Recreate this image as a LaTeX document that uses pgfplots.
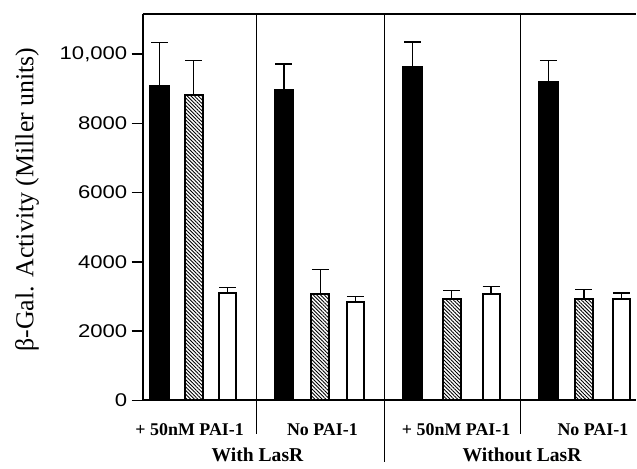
\documentclass[border=0pt]{standalone}
\usepackage{fontspec}
\setmainfont{Liberation Serif}
\newfontfamily\tickfont[FakeStretch=1.2]{Liberation Sans}
\usepackage{pgfplots}
\pgfplotsset{compat=1.18}
\usetikzlibrary{patterns.meta}
\begin{document}
\begin{tikzpicture}
\begin{axis}[
  scale only axis, width=494bp, height=387bp,
  xmin=143, xmax=637, ymin=0, ymax=11162,
  clip=false,
  scaled y ticks=false,
  axis x line*=bottom, axis y line*=left,
  axis line style={line width=2.4pt, black},
  ytick={0,2000,4000,6000,8000,10000},
  yticklabels={0,2000,4000,6000,8000,{10,000}},
  y tick label style={font=\tickfont\fontsize{18.5}{20}\selectfont, xshift=-1bp},
  ytick style={line width=1.4pt, black},
  tick align=outside, major tick length=11bp,
  xtick=\empty,
  /pgf/number format/assume math mode=true,
  error bars/y dir=plus, error bars/y explicit,
  error bars/error bar style={line width=1.3pt, black},
  error bars/error mark options={rotate=90, mark size=8.5bp, line width=1.3pt, black},
]
% black bars
\addplot[ybar, bar width=19, bar shift=0pt, fill=black, draw=black, line width=1.5pt]
  coordinates {(160,9097) +- (0,1240) (284.5,8962) +- (0,758) (413.5,9634) +- (0,721) (549.5,9201) +- (0,626)};
% hatched bars
\addplot[ybar, bar width=18, bar shift=0pt, draw=black, line width=2pt,
  pattern={Lines[angle=-45, distance=2.6pt, line width=0.9pt]}, pattern color=black]
  coordinates {(194,8817) +- (0,1010) (321,3078) +- (0,692) (452.5,2933) +- (0,240) (585,2925) +- (0,268)};
% white bars
\addplot[ybar, bar width=17, bar shift=0pt, fill=white, draw=black, line width=2pt]
  coordinates {(228,3098) +- (0,161) (356,2827) +- (0,173) (492,3078) +- (0,202) (622.5,2925) +- (0,173)};
% top line and dividers
\draw[line width=2pt] (axis cs:143,11162) -- (axis cs:637,11162);
\draw[line width=1pt] (axis cs:257,11162) -- (axis cs:257,-980);
\draw[line width=1pt] (axis cs:385,11162) -- (axis cs:385,-1770);
\draw[line width=1pt] (axis cs:521,11162) -- (axis cs:521,-980);
% texts
\node[rotate=90, font=\fontsize{26}{28}\selectfont] at (axis cs:27,5800) {β-Gal. Activity (Miller units)};
\node[anchor=base, font=\bfseries\fontsize{18}{20}\selectfont] at (axis cs:190,-1010) {+ 50nM PAI-1};
\node[anchor=base, font=\bfseries\fontsize{18}{20}\selectfont] at (axis cs:323,-1010) {No PAI-1};
\node[anchor=base, font=\bfseries\fontsize{18}{20}\selectfont] at (axis cs:457,-1010) {+ 50nM PAI-1};
\node[anchor=base, font=\bfseries\fontsize{18}{20}\selectfont] at (axis cs:594,-1010) {No PAI-1};
\node[anchor=base, font=\bfseries\fontsize{19.7}{22}\selectfont] at (axis cs:258,-1760) {With LasR};
\node[anchor=base, font=\bfseries\fontsize{19.7}{22}\selectfont] at (axis cs:523,-1760) {Without LasR};
\path (axis cs:0,-1961) rectangle (axis cs:637,11566);
\end{axis}
\end{tikzpicture}
\end{document}
